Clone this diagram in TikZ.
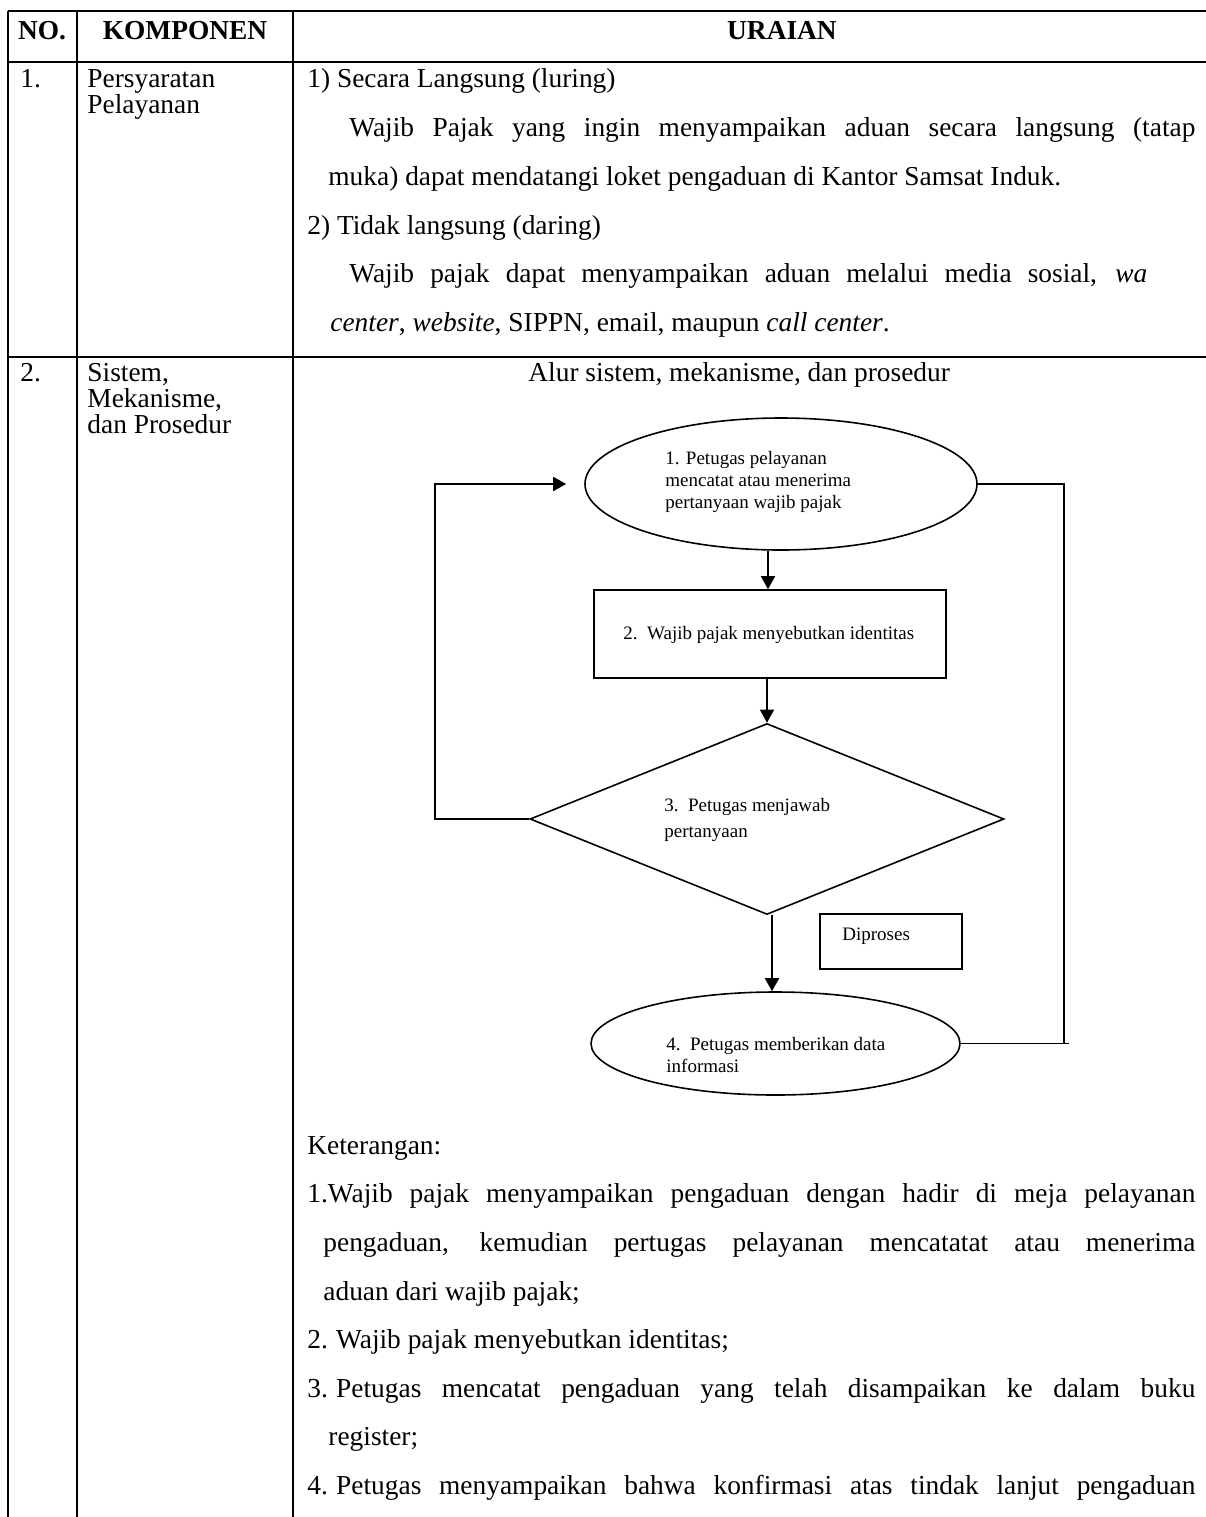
\documentclass[tikz,border=0pt]{standalone}
\usepackage{fontspec}
\setmainfont{Liberation Serif}
\usetikzlibrary{arrows.meta,shapes.geometric}
\newcommand{\bodyfs}{\fontsize{13.7pt}{16pt}\selectfont}
\newcommand{\chartfs}{\fontsize{9.5pt}{10.8pt}\selectfont}
% a line spread out to a fixed width (justified)
\newcommand{\jline}[2]{\makebox[#1][s]{#2}}
% fixed gap after an item number
\newcommand{\ngap}{\hspace{0.3em}}

\begin{document}
\begin{tikzpicture}[x=0.5pt,y=-0.5pt,
  grid/.style={line width=1pt},
  txt/.style={anchor=mid west,inner sep=0pt,font=\bodyfs},
  head/.style={anchor=mid,inner sep=0pt,font=\bodyfs\bfseries},
  ctxt/.style={anchor=west,inner sep=0pt,font=\chartfs,align=left},
  flow/.style={draw,line width=0.8pt,inner sep=0pt},
  conn/.style={line width=0.8pt},
  arr/.style={conn,-{Triangle[length=6.5pt,width=7pt]}},
]
\useasboundingbox (0,0) rectangle (1206,1517);

% table rules
\draw[grid] (8,11) -- (1206,11);
\draw[grid] (8,62) -- (1206,62);
\draw[grid] (8,357) -- (1206,357);
\draw[grid] (8,11) -- (8,1517);
\draw[grid] (77,11) -- (77,1517);
\draw[grid] (293,11) -- (293,1517);

% header
\node[head] (hNo) at (42,35) {NO.};
\node[head] (hKomp) at (185,35) {KOMPONEN};
\node[head] (hUr) at (782,35) {URAIAN};

% row 1
\node[txt] (no1) at (20,83) {1.};
\node[txt] (k1a) at (87,83) {Persyaratan};
\node[txt] (k1b) at (87,109) {Pelayanan};
\node[txt] (u1a) at (307,83) {1) Secara Langsung (luring)};
\node[txt] (u1b) at (349,132) {\jline{423pt}{Wajib Pajak yang ingin menyampaikan aduan secara langsung (tatap}};
\node[txt] (u1c) at (328,181) {muka) dapat mendatangi loket pengaduan di Kantor Samsat Induk.};
\node[txt] (u1d) at (307,230) {2) Tidak langsung (daring)};
\node[txt] (u1e) at (349,278) {\jline{399pt}{Wajib pajak dapat menyampaikan aduan melalui media sosial, \textit{wa}}};
\node[txt] (u1f) at (330,327) {\textit{center}, \textit{website}, SIPPN, email, maupun \textit{call center}.};

% row 2
\node[txt] (no2) at (20,377) {2.};
\node[txt] (k2a) at (87,377) {Sistem,};
\node[txt] (k2b) at (87,403) {Mekanisme,};
\node[txt] (k2c) at (87,429) {dan Prosedur};
\node[txt] (alur) at (528,377) {Alur sistem, mekanisme, dan prosedur};

% flowchart
\node[flow,ellipse,minimum width=196pt,minimum height=66pt] (e1) at (781,484) {};
\node[ctxt] (e1t) at (665,482) {1. Petugas pelayanan\\mencatat atau menerima\\pertanyaan wajib pajak};
\node[flow,rectangle,minimum width=176pt,minimum height=44pt] (r1) at (770,634) {};
\node[ctxt] (r1t) at (623,635) {2.\hspace{0.5em}Wajib pajak menyebutkan identitas};
\node[flow,diamond,minimum width=237pt,minimum height=95.5pt] (d) at (767,819) {};
\node[ctxt] (dt) at (664,820) {3.\hspace{0.5em}Petugas menjawab\\[2pt]pertanyaan};
\node[flow,rectangle,minimum width=71pt,minimum height=27.5pt] (dp) at (891,941.5) {};
\node[ctxt] (dpt) at (842,936) {Diproses};
\node[flow,ellipse,minimum width=184.5pt,minimum height=51.5pt] (e2) at (775.5,1043.5) {};
\node[ctxt] (e2t) at (666,1055) {4.\hspace{0.5em}Petugas memberikan data\\informasi};

\draw[arr] ([xshift=-6.5pt]e1.south) -- ([xshift=-1pt]r1.north);
\draw[arr] ([xshift=-1.5pt]r1.south) -- (d.north);
\draw[arr] ([xshift=2.5pt]d.south) -- ([xshift=-1.75pt]e2.north);
\draw[arr] (d.west) -- ++(-94,0) |- ([xshift=-9pt]e1.west);
\draw[conn] (e1.east) -- ++(86,0) |- (e2.east);
\draw[conn] (e2.east) -- ++(108,0);

% notes
\node[txt] (ket) at (307,1150) {Keterangan:};
\node[txt] (k1) at (307,1198) {\jline{444pt}{1.Wajib pajak menyampaikan pengaduan dengan hadir di meja pelayanan}};
\node[txt] (k1b2) at (323,1247) {\jline{436pt}{pengaduan, kemudian pertugas pelayanan mencatatat atau menerima}};
\node[txt] (k1c) at (323,1296) {aduan dari wajib pajak;};
\node[txt] (k2) at (307,1344) {2.\ngap Wajib pajak menyebutkan identitas;};
\node[txt] (k3) at (307,1393) {\jline{444pt}{3.\ngap Petugas mencatat pengaduan yang telah disampaikan ke dalam buku}};
\node[txt] (k3b) at (328,1441) {register;};
\node[txt] (k4) at (307,1490) {\jline{444pt}{4.\ngap Petugas menyampaikan bahwa konfirmasi atas tindak lanjut pengaduan}};
\end{tikzpicture}
\end{document}
